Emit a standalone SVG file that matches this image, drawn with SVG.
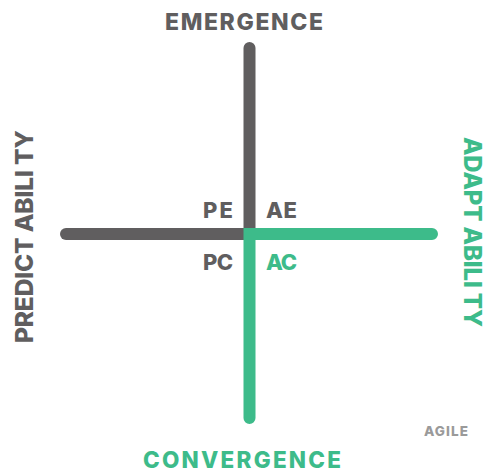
<svg xmlns="http://www.w3.org/2000/svg" width="487" height="474" viewBox="0 0 487 474">
<style>
.t{font-family:Inter,"Liberation Sans",sans-serif;font-weight:800;text-anchor:middle}
.g{fill:#605e5f}
.gr{fill:#3dbb8a}
.ln{fill:none;stroke-width:12;stroke-linecap:round}
</style>
<rect width="487" height="474" fill="#ffffff"/>
<g id="connectors">
<path class="ln" d="M249.5 48 V234" stroke="#605e5f"/>
<path class="ln" d="M66 234 H249.5" stroke="#605e5f"/>
<path class="ln" d="M432 234 H249.5 V418" stroke="#3dbb8a" stroke-linejoin="miter"/>
</g>
<g id="emergence"><text class="t g" x="244" y="29.5" font-size="23" textLength="158" lengthAdjust="spacing">EMERGENCE</text></g>
<g id="convergence"><text class="t gr" x="242" y="468" font-size="22.5" textLength="198" lengthAdjust="spacing">CONVERGENCE</text></g>
<g id="predictability"><text class="t g" transform="translate(33 236.5) rotate(-90)" x="0" y="0" font-size="24.5" textLength="213" lengthAdjust="spacing">PREDICT ABILI TY</text></g>
<g id="adaptability"><text class="t gr" transform="translate(464 232) rotate(90)" x="0" y="0" font-size="24" textLength="190" lengthAdjust="spacing">ADAPT ABILI TY</text></g>
<g id="pe"><text class="t g" x="218" y="218" font-size="22" textLength="30" lengthAdjust="spacing">PE</text></g>
<g id="ae"><text class="t g" x="281.5" y="218" font-size="22" textLength="31" lengthAdjust="spacing">AE</text></g>
<g id="pc"><text class="t g" x="218" y="270" font-size="22" textLength="30" lengthAdjust="spacing">PC</text></g>
<g id="ac"><text class="t gr" x="281.5" y="270" font-size="22" textLength="31" lengthAdjust="spacing">AC</text></g>
<g id="agile"><text class="t" fill="#9a9a9a" x="446" y="436" font-size="13.5" textLength="44" lengthAdjust="spacing">AGILE</text></g>
</svg>
